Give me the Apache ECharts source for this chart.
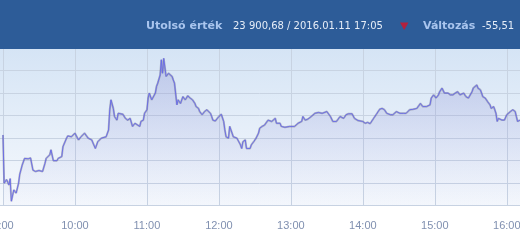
<!DOCTYPE html>
<html><head><meta charset="utf-8">
<script src="https://cdn.jsdelivr.net/npm/echarts@6/dist/echarts.min.js"></script>
<style>html,body{margin:0;padding:0;background:#fff;overflow:hidden}#c{width:520px;height:245px}</style>
</head><body><div id="c"></div>
<script>
// minutes after 9:00
const minutes = [0,1,3,5,6,7,9,11,13,14,16,18,19,21,23,25,27,30,33,35,36,39,40,42,43,45,46,49,50,53,54,57,60,63,65,68,71,74,77,79,82,86,88,89,90,92,93,95,96,100,102,104,106,108,110,111,114,115,117,118,120,121,122,124,125,127,128,129,131,132,133,134,136,138,139,141,
142,143,145,146,148,149,150,152,154,156,158,160,161,163,164,166,167,168,170,171,173,174,175,177,178,180,181,182,184,185,186,188,189,191,192,195,196,198,199,200,202,203,206,207,209,210,211,213,214,216,218,221,222,224,225,227,228,229,231,232,235,239,243,246,249,250,252,254,257,260,263,266,267,270,271,273,275,278,281,
284,285,286,288,291,293,296,300,302,303,304,306,309,311,314,316,318,320,321,323,325,328,331,334,336,339,342,345,348,350,353,354,356,357,359,360,361,363,364,366,367,368,371,373,375,377,378,379,381,382,384,385,386,388,389,391,392,395,396,398,399,400,402,404,406,407,409,410,411,412,413,414,416,417,418,420,421,423,424,425,427,428,429,431];
const values = [23857,23750,23758,23746,23760,23710,23735,23728,23750,23770,23790,23805,23809,23804,23806,23779,23776,23778,23776,23794,23805,23813,23824,23800,23798,23800,23805,23809,23831,23850,23855,23853,23861,23846,23853,23861,23850,23846,23827,23842,23850,23853,23868,23913,23935,23916,23898,23890,23905,23903,23894,23890,23894,23876,23883,23887,23876,23887,23890,23905,23913,23939,23950,23935,23939,23950,23965,23972,23990,24024,23994,24027,23987,23994,23998,23987,
23979,23972,23924,23935,23927,23935,23942,23935,23944,23939,23935,23927,23920,23916,23909,23902,23898,23909,23913,23909,23905,23898,23890,23888,23887,23898,23902,23903,23887,23868,23853,23850,23876,23861,23853,23850,23846,23835,23827,23842,23846,23827,23827,23835,23842,23846,23850,23861,23872,23876,23879,23890,23894,23887,23890,23894,23883,23879,23883,23876,23874,23876,23876,23883,23887,23898,23890,23892,23898,23905,23907,23905,23902,23909,23905,23898,23887,23887,23898,
23894,23894,23902,23904,23904,23894,23889,23887,23883,23887,23885,23882,23894,23902,23914,23916,23913,23905,23909,23902,23902,23909,23905,23905,23905,23913,23914,23916,23927,23920,23920,23916,23924,23939,23946,23950,23939,23946,23953,23961,23957,23950,23950,23946,23946,23950,23946,23953,23946,23950,23950,23946,23942,23939,23942,23953,23961,23968,23961,23957,23950,23942,23939,23931,23924,23916,23920,23913,23905,23887,23894,23898,23890,23894,23890,23902,23905,23909,23905,23913,23909,23898,23887,23890];
const hourLabels = ['9:00','10:00','11:00','12:00','13:00','14:00','15:00','16:00'];
const headerLabel1 = 'Utolsó érték';
const headerValue1 = '23 900,68 / 2016.01.11 17:05';
const headerLabel2 = 'Változás';
const headerValue2 = '-55,51';

const data = minutes.map((m, i) => [m, values[i]]);
const chart = echarts.init(document.getElementById('c'), null, {renderer: 'canvas'});
chart.setOption({
  animation: false,
  backgroundColor: '#ffffff',
  grid: {
    left: -69, right: 0, top: 48, bottom: 39.3,
    outerBoundsMode: 'none', containLabel: false,
    show: true, borderWidth: 0,
    backgroundColor: new echarts.graphic.LinearGradient(0, 0, 0, 1, [
      {offset: 0, color: '#d5e4f5'},
      {offset: 1, color: '#f6f9fd'}
    ])
  },
  xAxis: {
    type: 'value', min: -60, max: 431, interval: 60,
    axisLine: {show: true, lineStyle: {color: '#c8d3e2'}},
    axisTick: {show: false},
    splitLine: {show: true, lineStyle: {color: '#c8d3e2', width: 1}},
    axisLabel: {
      color: '#8090b0', fontFamily: 'Liberation Sans', fontSize: 11, margin: 15,
      hideOverlap: false, showMinLabel: true, showMaxLabel: true,
      formatter: v => (v >= 0 && v % 60 === 0) ? hourLabels[v / 60] : ''
    }
  },
  yAxis: {
    type: 'value', min: 23700, max: 24050, interval: 50,
    axisLabel: {show: false}, axisLine: {show: false}, axisTick: {show: false},
    splitLine: {show: true, lineStyle: {color: '#c8d3e2', width: 1}}
  },
  series: [
    {
      type: 'line', data: data, showSymbol: false, symbol: 'none',
      lineStyle: {color: 'rgba(110,110,130,0.45)', width: 2},
      areaStyle: {
        color: new echarts.graphic.LinearGradient(0, 0, 0, 1, [
          {offset: 0, color: 'rgba(125,130,205,0.45)'},
          {offset: 1, color: 'rgba(160,165,225,0.04)'}
        ])
      },
      z: 2
    },
    {
      type: 'line', data: data, showSymbol: false, symbol: 'none',
      lineStyle: {color: '#6669ea', width: 0.9}, z: 3
    }
  ],
  graphic: [
    {type: 'rect', shape: {x: 0, y: 0, width: 520, height: 49}, style: {fill: '#2d5c98'}, z: 100},
    {type: 'text', x: 146, y: 26, style: {text: headerLabel1, fill: '#a9c5ee', font: 'bold 11px "DejaVu Sans"', verticalAlign: 'middle'}, z: 101},
    {type: 'text', x: 233, y: 26, style: {text: headerValue1, fill: '#e6edf7', font: '10px "DejaVu Sans"', verticalAlign: 'middle'}, z: 101},
    {type: 'polygon', shape: {points: [[400, 22.5], [408.5, 22.5], [404.2, 30]]}, style: {fill: '#b3213d'}, z: 101},
    {type: 'text', x: 423, y: 26, style: {text: headerLabel2, fill: '#a9c5ee', font: 'bold 11px "DejaVu Sans"', verticalAlign: 'middle'}, z: 101},
    {type: 'text', x: 482, y: 26, style: {text: headerValue2, fill: '#e6edf7', font: '10px "DejaVu Sans"', verticalAlign: 'middle'}, z: 101}
  ]
});
</script>
</body></html>
